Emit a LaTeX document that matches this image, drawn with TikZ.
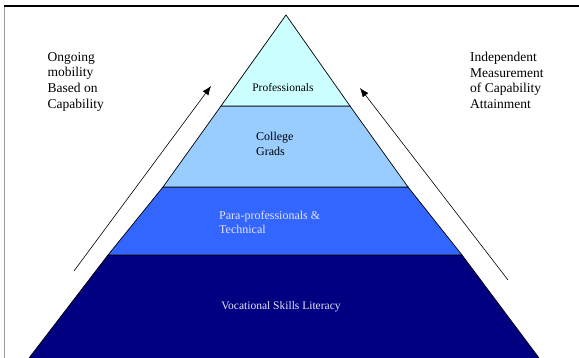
\documentclass[tikz,border=0pt]{standalone}
\usepackage{fontspec}
\setmainfont{Liberation Serif}
\usetikzlibrary{arrows.meta}
\definecolor{lvlA}{HTML}{CCFFFF}
\definecolor{lvlB}{HTML}{99CCFF}
\definecolor{lvlC}{HTML}{3366FF}
\definecolor{lvlD}{HTML}{000080}
\definecolor{paletxt}{HTML}{E4E4FA}
\definecolor{frameline}{HTML}{9A9A9A}
\tikzset{
  layer/.style={draw=black, line width=0.7pt, line join=miter},
  sidetext/.style={anchor=north west, align=left, inner sep=0pt, font=\fontsize{13.5}{15.7}\selectfont},
  lvltext/.style={inner sep=0pt, font=\fontsize{11.5}{14}\selectfont},
  arr/.style={line width=0.6pt, -{Latex[length=9pt,width=7pt]}}
}
\begin{document}
\begin{tikzpicture}[x=1pt,y=-1pt]
\useasboundingbox (0,0) rectangle (579,358);
\clip (0,0) rectangle (579,358);
\fill[white] (0,0) rectangle (579,358);
% frame
\draw[frameline, line width=1.6pt] (4.5,5.5) -- (4.5,360);
\draw[black, line width=1.1pt] (3.7,6) -- (580,6);
% pyramid layers
\filldraw[layer, fill=lvlD] (108,255) -- (462,255) -- (542,362) -- (26,362) -- cycle;
\filldraw[layer, fill=lvlC] (163,187) -- (408,187) -- (462,255) -- (108,255) -- cycle;
\filldraw[layer, fill=lvlB] (221,106) -- (350,106) -- (408,187) -- (163,187) -- cycle;
\filldraw[layer, fill=lvlA] (286,15) -- (350,106) -- (221,106) -- cycle;
% texts
\node[sidetext] (lefttxt) at (47.5,52) {Ongoing\\mobility\\Based on\\Capability};
\node[sidetext] (righttxt) at (470,52) {Independent\\Measurement\\of Capability\\Attainment};
\node[lvltext] (prof) at (283,88) {Professionals};
\node[lvltext, anchor=north west, align=left, font=\fontsize{12}{15.5}\selectfont] (coll) at (256,131.5) {College\\Grads};
\node[lvltext, anchor=north west, align=left, text=paletxt, font=\fontsize{12}{14}\selectfont] (para) at (219,211) {Para-professionals \&\\Technical};
\node[lvltext, text=paletxt] (voc) at (281,306.5) {Vocational Skills Literacy};
% arrows
\coordinate (la0) at (74,271);
\coordinate (la1) at (211,86);
\coordinate (ra0) at (508,280);
\coordinate (ra1) at (360,88);
\draw[arr] (la0) -- (la1);
\draw[arr] (ra0) -- (ra1);
\end{tikzpicture}
\end{document}
